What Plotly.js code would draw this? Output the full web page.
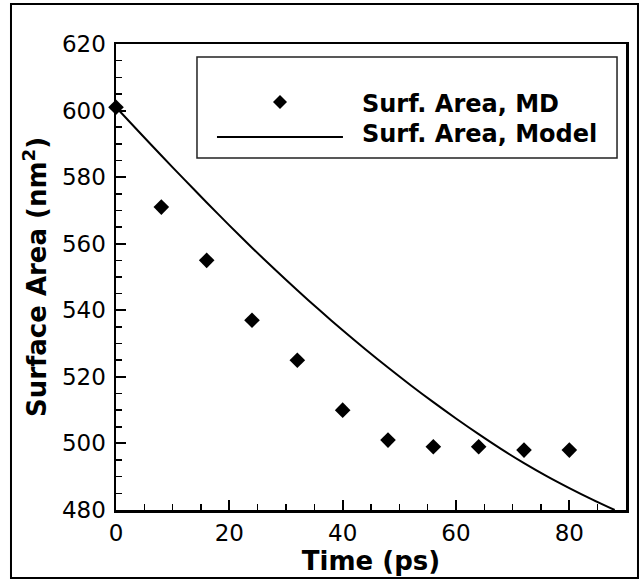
<!DOCTYPE html>
<html>
<head>
<meta charset="utf-8">
<script src="https://cdn.plot.ly/plotly-3.0.1.min.js"></script>
<style>
  html, body { margin: 0; padding: 0; background: #ffffff; }
  #chart { width: 644px; height: 580px; }
</style>
</head>
<body>
<div id="chart"></div>
<script>
// MD data (diamonds)
const mdTime = [0, 8, 16, 24, 32, 40, 48, 56, 64, 72, 80];
const mdArea = [601, 571, 555, 537, 525, 510, 501, 499, 499, 498, 498];

// Model curve (solid line)
const modelTime = [0, 4, 8, 12, 16, 20, 24, 28, 32, 36, 40, 44, 48, 52, 56, 60, 64, 68, 72, 76, 80, 84, 88];
const modelArea = [601, 593.7, 586.5, 579.4, 572.4, 565.5, 558.8, 552.3, 546.0, 539.9, 534.0, 528.3, 522.8, 517.5, 512.4, 507.5, 502.8, 498.3, 494.1, 490.2, 486.6, 483.2, 480.0];

const seriesNames = ["Surf. Area, MD", "Surf. Area, Model"];
const xTitle = "Time (ps)";
const yTitle = "Surface Area (nm<sup>2</sup>)";

const FONT = "DejaVu Sans, Arial, sans-serif";

const traces = [
  {
    x: modelTime, y: modelArea, name: seriesNames[1],
    type: "scatter", mode: "lines",
    line: { color: "#000000", width: 2, shape: "spline", smoothing: 0.8 },
    showlegend: false, cliponaxis: true, hoverinfo: "skip"
  },
  {
    x: mdTime, y: mdArea, name: seriesNames[0],
    type: "scatter", mode: "markers",
    marker: { symbol: "diamond", size: 12, color: "#000000" },
    showlegend: false, cliponaxis: false, hoverinfo: "skip"
  }
];

// legend geometry (paper coords)
const lgX = 0.3216, lgY = 0.8755, dX = 7 / 510, dY = 7 / 466;

const layout = {
  width: 644, height: 580,
  margin: { l: 116, r: 18, t: 44, b: 70, pad: 0 },
  paper_bgcolor: "#ffffff", plot_bgcolor: "#ffffff",
  font: { family: FONT, color: "#000000", size: 23 },
  showlegend: false,
  xaxis: {
    range: [0, 90], dtick: 20, tick0: 0,
    showgrid: false, zeroline: false,
    showline: true, linecolor: "#000000", linewidth: 2.5, mirror: true,
    ticks: "inside", ticklen: 10, tickwidth: 2, tickcolor: "#000000",
    minor: { dtick: 5, ticks: "inside", ticklen: 6, tickwidth: 1.5, tickcolor: "#000000", showgrid: false },
    tickfont: { family: FONT, size: 23, color: "#000000" },
    ticklabelstandoff: 1,
    title: { text: "<b>" + xTitle + "</b>", font: { family: FONT, size: 26, color: "#000000" }, standoff: 0 },
    automargin: false, fixedrange: true
  },
  yaxis: {
    range: [480, 620], dtick: 20, tick0: 480,
    showgrid: false, zeroline: false,
    showline: true, linecolor: "#000000", linewidth: 2.5, mirror: true,
    ticks: "inside", ticklen: 10, tickwidth: 2, tickcolor: "#000000",
    minor: { dtick: 5, ticks: "inside", ticklen: 6, tickwidth: 1.5, tickcolor: "#000000", showgrid: false },
    tickfont: { family: FONT, size: 23, color: "#000000" },
    ticklabelstandoff: 3,
    title: { text: "<b>" + yTitle + "</b>", font: { family: FONT, size: 26, color: "#000000" }, standoff: 8 },
    automargin: false, fixedrange: true
  },
  shapes: [
    // outer frame
    { type: "rect", xref: "paper", yref: "paper", x0: -0.2059, x1: 1.0235, y0: -0.1459, y1: 1.0858,
      line: { color: "#000000", width: 2 }, fillcolor: "rgba(0,0,0,0)", layer: "above" },
    // legend box
    { type: "rect", xref: "paper", yref: "paper", x0: 0.1588, x1: 0.9824, y0: 0.7554, y1: 0.9721,
      line: { color: "#222222", width: 1.5 }, fillcolor: "#ffffff", layer: "above" },
    // legend line sample
    { type: "line", xref: "paper", yref: "paper", x0: 0.198, x1: 0.445, y0: 0.8004, y1: 0.8004,
      line: { color: "#000000", width: 2 }, layer: "above" },
    // legend diamond sample
    { type: "path", xref: "paper", yref: "paper",
      path: "M " + (lgX - dX) + " " + lgY + " L " + lgX + " " + (lgY + dY) + " L " + (lgX + dX) + " " + lgY + " L " + lgX + " " + (lgY - dY) + " Z",
      fillcolor: "#000000", line: { color: "#000000", width: 0 }, layer: "above" }
  ],
  annotations: [
    { xref: "paper", yref: "paper", x: 0.4784, y: 0.8723, xanchor: "left", yanchor: "middle",
      text: "<b>" + seriesNames[0] + "</b>", showarrow: false, font: { family: FONT, size: 24, color: "#000000" } },
    { xref: "paper", yref: "paper", x: 0.4784, y: 0.8079, xanchor: "left", yanchor: "middle",
      text: "<b>" + seriesNames[1] + "</b>", showarrow: false, font: { family: FONT, size: 24, color: "#000000" } }
  ]
};

Plotly.newPlot("chart", traces, layout, { displayModeBar: false, staticPlot: true });
</script>
</body>
</html>
